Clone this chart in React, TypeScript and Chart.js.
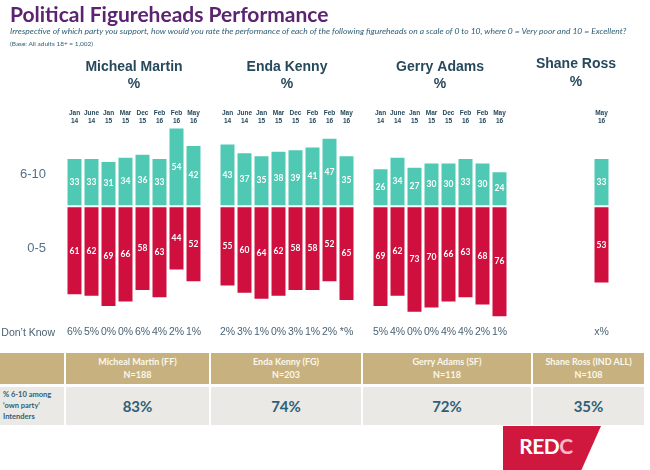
import React, { useEffect, useRef } from "react";
import { Chart, registerables } from "chart.js";
Chart.register(...registerables);

// ---------- data ----------
const groupNames = ["Micheal Martin", "Enda Kenny", "Gerry Adams", "Shane Ross"];
const fullMonths = ["Jan 14", "June 14", "Jan 15", "Mar 15", "Dec 15", "Feb 16", "Feb 16", "May 16"];
const rossMonths = ["May 16"];

const martinHigh = [33, 33, 31, 34, 36, 33, 54, 42];
const martinLow = [61, 62, 69, 66, 58, 63, 44, 52];
const martinDK = ["6%", "5%", "0%", "0%", "6%", "4%", "2%", "1%"];

const kennyHigh = [43, 37, 35, 38, 39, 41, 47, 35];
const kennyLow = [55, 60, 64, 62, 58, 58, 52, 65];
const kennyDK = ["2%", "3%", "1%", "0%", "3%", "1%", "2%", "*%"];

const adamsHigh = [26, 34, 27, 30, 30, 33, 30, 24];
const adamsLow = [69, 62, 73, 70, 66, 63, 68, 76];
const adamsDK = ["5%", "4%", "0%", "0%", "4%", "4%", "2%", "1%"];

const rossHigh = [33];
const rossLow = [53];
const rossDK = ["x%"];

const yTickValues = [22, -29];
const yTickLabels = ["6-10", "0-5"];
const dontKnowTitle = "Don\u2019t Know";

const tableHeaders = ["Micheal Martin (FF)", "Enda Kenny (FG)", "Gerry Adams (SF)", "Shane Ross (IND ALL)"];
const tableN = ["N=188", "N=203", "N=118", "N=108"];
const ownPartyShare = ["83%", "74%", "72%", "35%"];
const rowLabelLines = ["% 6-10 among", "\u2018own party\u2019", "Intenders"];

// ---------- layout constants (empty category slots after each group) ----------
const gapsAfter = [1, 1, 5, 0];
const headerCenters = [3.5, 12.5, 21.5, 29.5];

const groups = [
  { months: fullMonths, high: martinHigh, low: martinLow, dk: martinDK },
  { months: fullMonths, high: kennyHigh, low: kennyLow, dk: kennyDK },
  { months: fullMonths, high: adamsHigh, low: adamsLow, dk: adamsDK },
  { months: rossMonths, high: rossHigh, low: rossLow, dk: rossDK },
];

const labels: (string | string[])[] = [];
const dkLabels: string[] = [];
const highData: (number | null)[] = [];
const lowData: (number | null)[] = [];
groups.forEach((g, gi) => {
  g.months.forEach((m, i) => {
    labels.push(m.split(" "));
    dkLabels.push(g.dk[i]);
    highData.push(g.high[i]);
    lowData.push(-g.low[i]);
  });
  for (let k = 0; k < gapsAfter[gi]; k++) {
    labels.push("");
    dkLabels.push("");
    highData.push(null);
    lowData.push(null);
  }
});

const TEAL = "#4fc9b3";
const RED = "#cf0f3e";
const DARK = "#27495c";

const overlayPlugin = {
  id: "overlay",
  afterDatasetsDraw(chart: any) {
    const ctx = chart.ctx;
    ctx.save();
    ctx.textAlign = "center";
    ctx.textBaseline = "middle";
    ctx.fillStyle = "#ffffff";
    ctx.font = "bold 8.5px Lato";
    chart.data.datasets.forEach((ds: any, di: number) => {
      const meta = chart.getDatasetMeta(di);
      meta.data.forEach((el: any, i: number) => {
        const v = ds.data[i];
        if (v === null || v === undefined) return;
        const p = el.getProps(["x", "y", "base"], true);
        ctx.fillText(String(Math.abs(v)), p.x, (p.y + p.base) / 2);
      });
    });
    const xs = chart.scales.x;
    ctx.fillStyle = DARK;
    ctx.font = 'bold 14px "Liberation Sans"';
    groupNames.forEach((n, i) => {
      const cx = xs.getPixelForValue(headerCenters[i]);
      const dy = i === 3 ? -2.5 : 0;
      ctx.fillText(n, cx, 67 + dy);
      ctx.fillText("%", cx, 84.5 + dy);
    });
    ctx.textAlign = "right";
    ctx.fillStyle = "#4b6374";
    ctx.font = '10.5px "Liberation Sans"';
    ctx.fillText(dontKnowTitle, 55, 333.5);
    ctx.restore();
  },
};

function ChartCanvas() {
  const ref = useRef<HTMLCanvasElement | null>(null);
  useEffect(() => {
    if (!ref.current) return;
    const chart = new Chart(ref.current, {
      type: "bar",
      data: {
        labels,
        datasets: [
          {
            label: "6-10",
            data: highData,
            backgroundColor: TEAL,
            borderColor: "rgba(255,255,255,0.42)",
            borderWidth: 1,
            borderSkipped: false,
            barPercentage: 0.94,
            categoryPercentage: 1,
          },
          {
            label: "0-5",
            data: lowData,
            backgroundColor: RED,
            borderColor: "rgba(255,255,255,0.42)",
            borderWidth: 1,
            borderSkipped: false,
            barPercentage: 0.94,
            categoryPercentage: 1,
          },
        ],
      },
      options: {
        animation: false,
        responsive: false,
        maintainAspectRatio: false,
        layout: { padding: { top: 108, left: 0, right: 40, bottom: 7 } },
        plugins: { legend: { display: false }, tooltip: { enabled: false }, title: { display: false } },
        scales: {
          x: {
            type: "category",
            position: "top",
            stacked: true,
            offset: true,
            grid: { display: false, drawTicks: false },
            border: { display: false },
            ticks: {
              autoSkip: false,
              maxRotation: 0,
              minRotation: 0,
              padding: 1,
              color: DARK,
              font: { family: '"Liberation Sans"', size: 6.5, weight: "bold", lineHeight: "8px" },
            },
            afterFit: (s: any) => {
              s.height = 18;
              s.paddingLeft = 0;
              s.paddingRight = 0;
            },
          },
          x2: {
            type: "category",
            position: "bottom",
            labels: dkLabels,
            offset: true,
            grid: { display: false, drawTicks: false },
            border: { display: false },
            ticks: {
              autoSkip: false,
              maxRotation: 0,
              minRotation: 0,
              padding: 3,
              color: "#4b6374",
              font: { family: '"Liberation Sans"', size: 10.5, lineHeight: 1.2 },
            },
            afterFit: (s: any) => {
              s.height = 20;
              s.paddingLeft = 0;
              s.paddingRight = 0;
            },
          },
          y: {
            stacked: true,
            min: -80,
            max: 55,
            grid: { display: false, drawTicks: false },
            border: { display: false },
            afterBuildTicks: (s: any) => {
              s.ticks = yTickValues.map((v) => ({ value: v }));
            },
            ticks: {
              padding: 20,
              color: "#56708a",
              font: { family: '"Liberation Sans"', size: 13 },
              callback: (_v: any, i: number) => yTickLabels[i],
            },
            afterFit: (s: any) => {
              s.width = 66;
              s.paddingTop = 0;
              s.paddingBottom = 0;
            },
          },
        },
      },
      plugins: [overlayPlugin],
    } as any);
    return () => chart.destroy();
  }, []);
  return (
    <canvas
      ref={ref}
      width={650}
      height={350}
      style={{ position: "absolute", left: 0, top: 0, width: 650, height: 350, display: "block" }}
    />
  );
}

const colEdges = [0, 65, 210, 362, 532, 645];

export default function App() {
  const cell = (l: number, r: number, top: number, h: number, bg: string): React.CSSProperties => ({
    position: "absolute",
    left: l + (l === 0 ? 0 : 1),
    top,
    width: r - l - (l === 0 ? 1 : 2),
    height: h,
    background: bg,
  });
  return (
    <div
      style={{
        position: "fixed",
        left: 0,
        top: 0,
        width: 650,
        height: 470,
        background: "#ffffff",
        overflow: "hidden",
        fontFamily: "Lato, sans-serif",
      }}
    >
      <ChartCanvas />
      <div
        style={{
          position: "absolute",
          left: 10,
          top: 1,
          fontSize: 21,
          fontWeight: 700,
          color: "#5b2370",
          whiteSpace: "nowrap",
          lineHeight: "26px",
        }}
      >
        Political Figureheads Performance
      </div>
      <div
        style={{
          position: "absolute",
          left: 10,
          top: 26,
          fontSize: 8.5,
          fontStyle: "italic",
          color: "#2f5f77",
          whiteSpace: "nowrap",
          lineHeight: "10px",
        }}
      >
        Irrespective of which party you support, how would you rate the performance of each of the following
        figureheads on a scale of 0 to 10, where 0 = Very poor and 10 = Excellent?
      </div>
      <div
        style={{
          position: "absolute",
          left: 10,
          top: 39,
          fontSize: 6.5,
          color: "#2f5f77",
          whiteSpace: "nowrap",
          lineHeight: "10px",
        }}
      >
        (Base: All adults 18+ = 1,002)
      </div>

      {/* table */}
      {colEdges.slice(0, -1).map((l, i) => (
        <div key={"h" + i} style={cell(l, colEdges[i + 1], 353, 31, "#c7b27f")}>
          {i > 0 && (
            <div
              style={{
                color: "#fbf7ee",
                fontWeight: 700,
                fontSize: 9,
                lineHeight: "12.5px",
                textAlign: "center",
                paddingTop: 3,
              }}
            >
              <div>{tableHeaders[i - 1]}</div>
              <div>{tableN[i - 1]}</div>
            </div>
          )}
        </div>
      ))}
      {colEdges.slice(0, -1).map((l, i) => (
        <div key={"b" + i} style={cell(l, colEdges[i + 1], 387, 38, "#eae9e5")}>
          {i === 0 ? (
            <div
              style={{
                color: "#2f5f77",
                fontWeight: 700,
                fontSize: 7.5,
                lineHeight: "11.2px",
                paddingLeft: 3,
                paddingTop: 2,
                whiteSpace: "nowrap",
              }}
            >
              {rowLabelLines.map((t) => (
                <div key={t}>{t}</div>
              ))}
            </div>
          ) : (
            <div
              style={{
                color: "#2f5f77",
                fontWeight: 700,
                fontSize: 15,
                lineHeight: "38px",
                textAlign: "center",
              }}
            >
              {ownPartyShare[i - 1]}
            </div>
          )}
        </div>
      ))}

      {/* logo */}
      <div
        style={{
          position: "absolute",
          left: 503,
          top: 426,
          width: 98,
          height: 44,
          background: "#d0183f",
          clipPath: "polygon(0 0, 100% 0, 80% 100%, 0 100%)",
        }}
      />
      <div
        style={{
          position: "absolute",
          left: 503,
          top: 434,
          width: 86,
          textAlign: "center",
          fontWeight: 700,
          fontSize: 21,
          lineHeight: "24px",
          color: "#ffffff",
          letterSpacing: -0.5,
        }}
      >
        RED<span style={{ color: "#f4b8c6" }}>C</span>
      </div>
    </div>
  );
}
